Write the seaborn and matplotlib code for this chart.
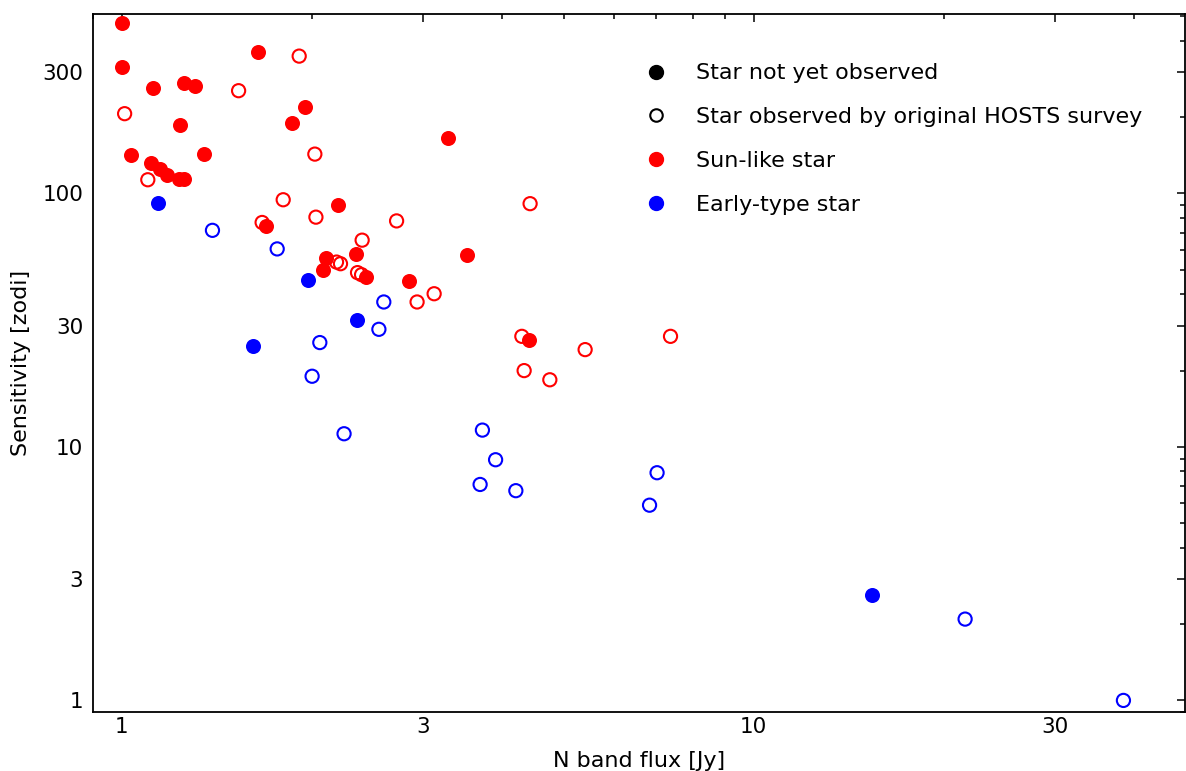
import numpy as np
import pandas as pd
import matplotlib
matplotlib.use("Agg")
import matplotlib.pyplot as plt
import seaborn as sns
from matplotlib.lines import Line2D
from matplotlib.ticker import FixedLocator, LogLocator, NullFormatter, FixedFormatter

# ---- data ----
# Sun-like stars, not yet observed (filled red)
sun_new_flux = [1.00, 1.00, 1.64, 1.121, 1.252, 1.303, 1.950, 1.860, 1.235, 3.276,
                1.032, 1.350, 1.111, 1.148, 1.179, 1.233, 1.253, 2.199, 1.690, 2.101,
                2.351, 3.511, 2.082, 2.433, 2.849, 4.401]
sun_new_sens = [471.5, 316, 360, 260.3, 273.4, 265, 219.8, 188.9, 186.6, 165.3,
                141.2, 142.5, 132.2, 125.1, 117.8, 113.6, 113.6, 89.7, 74.3, 55.6,
                57.8, 56.9, 49.7, 46.9, 45.2, 26.3]
# Sun-like stars observed by HOSTS (open red)
sun_obs_flux = [1.908, 1.530, 1.010, 2.020, 1.099, 1.800, 2.028, 2.721, 1.667, 2.400,
                2.186, 2.218, 2.360, 2.395, 2.932, 3.120, 4.426, 4.295, 5.409, 7.383,
                4.331, 4.756]
sun_obs_sens = [348, 254.2, 206.3, 142.9, 113.2, 94.4, 80.6, 77.9, 76.8, 65.4,
                53.6, 52.8, 48.7, 47.8, 37.3, 40.2, 91.1, 27.3, 24.2, 27.3,
                20.0, 18.4]
# Early-type stars, not yet observed (filled blue)
early_new_flux = [1.141, 1.971, 2.357, 1.610, 15.39]
early_new_sens = [91.6, 45.5, 31.8, 24.9, 2.596]
# Early-type stars observed by HOSTS (open blue)
early_obs_flux = [1.391, 1.761, 2.597, 2.551, 2.057, 2.000, 2.247, 3.720, 3.903, 3.689,
                  4.202, 7.03, 6.84, 21.6, 38.46]
early_obs_sens = [71.5, 60.4, 37.3, 29.1, 25.8, 19.0, 11.27, 11.65, 8.90, 7.11,
                  6.72, 7.91, 5.89, 2.093, 1.0]

x_ticks = [1, 3, 10, 30]
x_ticklabels = ["1", "3", "10", "30"]
y_ticks = [1, 3, 10, 30, 100, 300]
y_ticklabels = ["1", "3", "10", "30", "100", "300"]

legend_labels = ["Star not yet observed", "Star observed by original HOSTS survey",
                 "Sun-like star", "Early-type star"]

# ---- plotting ----
sns.set_style("white")
plt.rcParams["font.family"] = ["DejaVu Sans"]
plt.rcParams["font.size"] = 15.5
for k in ["text.color", "axes.labelcolor", "xtick.color", "ytick.color", "axes.edgecolor"]:
    plt.rcParams[k] = "black"

fig = plt.figure(figsize=(11.86, 7.71), dpi=100)
ax = fig.add_axes([0.0784, 0.0765, 0.9206, 0.9053])

groups = [
    (sun_new_flux, sun_new_sens, "red", True),
    (sun_obs_flux, sun_obs_sens, "red", False),
    (early_new_flux, early_new_sens, "blue", True),
    (early_obs_flux, early_obs_sens, "blue", False),
]
for fx, sy, col, filled in groups:
    df = pd.DataFrame({"flux": fx, "sens": sy})
    if filled:
        sns.scatterplot(data=df, x="flux", y="sens", ax=ax, s=117, color=col,
                        edgecolor=col, linewidth=0, zorder=3)
    else:
        sns.scatterplot(data=df, x="flux", y="sens", ax=ax, s=90, facecolors="none",
                        edgecolor=col, linewidth=1.5, zorder=3)

ax.set_xscale("log")
ax.set_yscale("log")
ax.set_xlim(0.9, 48.1)
ax.set_ylim(0.9, 510)

ax.xaxis.set_major_locator(FixedLocator(x_ticks))
ax.xaxis.set_major_formatter(FixedFormatter(x_ticklabels))
ax.yaxis.set_major_locator(FixedLocator(y_ticks))
ax.yaxis.set_major_formatter(FixedFormatter(y_ticklabels))
ax.xaxis.set_minor_locator(LogLocator(base=10, subs=[2, 4, 5, 6, 7, 8, 9]))
ax.yaxis.set_minor_locator(LogLocator(base=10, subs=[2, 4, 5, 6, 7, 8, 9]))
ax.xaxis.set_minor_formatter(NullFormatter())
ax.yaxis.set_minor_formatter(NullFormatter())

ax.tick_params(which="both", direction="in", top=True, right=True, colors="black",
               labelsize=15.5, width=1.1)
ax.tick_params(which="major", length=6)
ax.tick_params(which="minor", length=3.5)
ax.tick_params(axis="y", which="major", pad=7)
for sp in ax.spines.values():
    sp.set_color("black")
    sp.set_linewidth(1.3)

ax.set_xlabel("N band flux [Jy]", fontsize=16, labelpad=10)
ax.set_ylabel("Sensitivity [zodi]", fontsize=16, labelpad=8)

handles = [
    Line2D([], [], marker="o", linestyle="none", color="black", markersize=10),
    Line2D([], [], marker="o", linestyle="none", markerfacecolor="none",
           markeredgecolor="black", markeredgewidth=1.5, markersize=9),
    Line2D([], [], marker="o", linestyle="none", color="red", markersize=10),
    Line2D([], [], marker="o", linestyle="none", color="blue", markersize=10),
]
ax.legend(handles, legend_labels, loc="upper left", bbox_to_anchor=(0.477, 0.958),
          frameon=False, fontsize=16, labelspacing=1.07, handletextpad=0.8)

fig.savefig("out.png", dpi=100)
